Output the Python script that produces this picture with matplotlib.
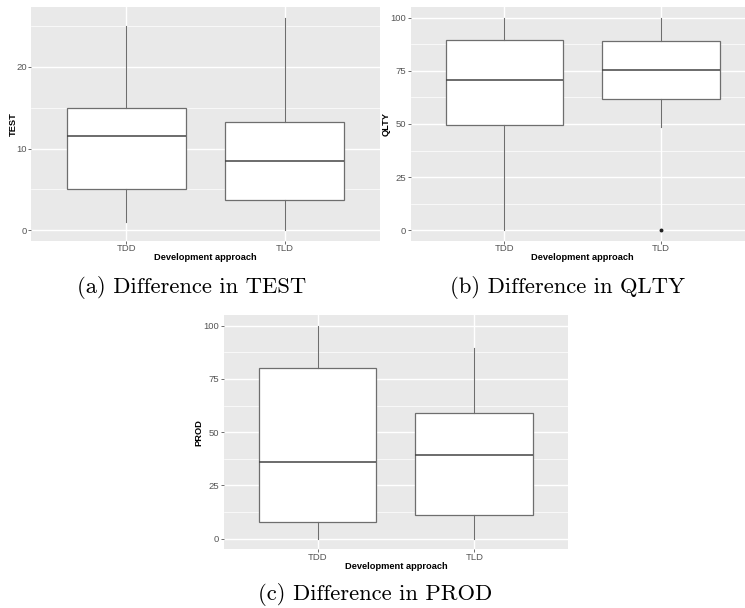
import matplotlib.pyplot as plt

# valores: [minimo, Q1, mediana, Q3, maximo] por grupo
grupos = ['TDD', 'TLD']

test_tdd = [1, 5, 11.5, 15, 25]
test_tld = [0, 3.7, 8.5, 13.2, 26]

qlty_tdd = [0, 49.5, 70.5, 89.6, 100]
qlty_tld = [48.7, 61.7, 75.2, 89.2, 100]
qlty_outliers_tld = [0]

prod_tdd = [0, 7.7, 35.8, 80, 100]
prod_tld = [0, 11, 39.4, 59.2, 89.4]

test_ticks = [0, 10, 20]
pct_ticks = [0, 25, 50, 75, 100]

plt.rcParams['font.family'] = ['Liberation Sans', 'DejaVu Sans']

fig = plt.figure(figsize=(7.45, 6.08), dpi=100)


def pos(l, t, r, b):
    return [l / 745, 1 - b / 608, (r - l) / 745, (b - t) / 608]


def stats(v, fliers=()):
    return {'whislo': v[0], 'q1': v[1], 'med': v[2], 'q3': v[3], 'whishi': v[4],
            'fliers': list(fliers)}


def painel(ax, dados, outliers, ylabel, ticks, ymin, ymax, ylab_x):
    ax.set_facecolor('#E9E9E9')
    st = [stats(d, o) for d, o in zip(dados, outliers)]
    ax.bxp(st, positions=[1, 2], widths=0.75, patch_artist=True, showcaps=False,
           boxprops=dict(facecolor='white', edgecolor='#6E6E6E', linewidth=0.9),
           medianprops=dict(color='#444444', linewidth=1.1),
           whiskerprops=dict(color='#6E6E6E', linewidth=0.8),
           flierprops=dict(marker='o', markersize=1.8, markerfacecolor='#222222',
                           markeredgecolor='#222222'),
           zorder=3)
    ax.set_xlim(0.4, 2.6)
    r = ymax - ymin
    ax.set_ylim(ymin - 0.05 * r, ymax + 0.05 * r)
    ax.set_xticks([1, 2])
    ax.set_xticklabels(grupos)
    ax.set_yticks(ticks)
    passo = ticks[1] - ticks[0]
    menores = [t + passo / 2 for t in ticks]
    ax.set_yticks([m for m in menores if m < ymax + 0.05 * r], minor=True)
    ax.grid(True, which='major', color='white', linewidth=1.0, zorder=0)
    ax.grid(True, which='minor', axis='y', color='white', linewidth=0.5, zorder=0)
    ax.set_axisbelow(True)
    for s in ax.spines.values():
        s.set_visible(False)
    ax.tick_params(which='major', length=2, width=0.6, color='#555555',
                   labelsize=6.8, labelcolor='#555555', pad=1)
    ax.tick_params(axis='x', pad=0.5)
    ax.tick_params(which='minor', length=0)
    ax.set_xlabel('Development approach', fontsize=6.7, fontweight='bold', labelpad=0)
    ax.set_ylabel(ylabel, fontsize=6.7, fontweight='bold')
    ax.yaxis.set_label_coords(ylab_x, 0.5)


ax1 = fig.add_axes(pos(31, 7, 380, 241))
painel(ax1, [test_tdd, test_tld], [[], []], 'TEST', test_ticks, 0, 26,
       (17.5 - 31) / 349)

ax2 = fig.add_axes(pos(410.5, 7, 755, 241))
painel(ax2, [qlty_tdd, qlty_tld], [[], qlty_outliers_tld], 'QLTY', pct_ticks, 0, 100,
       (391 - 410.5) / 344.5)

ax3 = fig.add_axes(pos(223.5, 315, 568.3, 549.3))
painel(ax3, [prod_tdd, prod_tld], [[], []], 'PROD', pct_ticks, 0, 100,
       (203.5 - 223.5) / 344.8)

legendas = [('(a) Difference in TEST', 192, 288),
            ('(b) Difference in QLTY', 568, 288),
            ('(c) Difference in PROD', 375, 595)]
for txt, x, y in legendas:
    fig.text(x / 745, 1 - y / 608, txt, family='cmr10', fontsize=16.3,
             ha='center', va='center')

plt.savefig('out.png', dpi=100)
